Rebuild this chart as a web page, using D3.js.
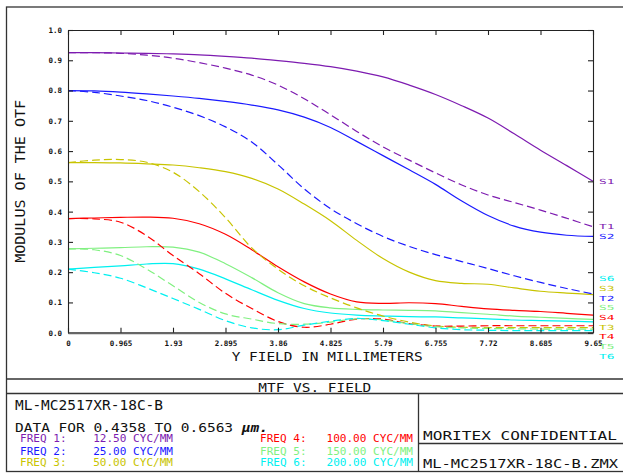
<!DOCTYPE html>
<html>
<head>
<meta charset="utf-8">
<script src="https://cdn.jsdelivr.net/npm/d3@7"></script>
<style>
  body { margin: 0; background: #fff; overflow: hidden; }
  svg { display: block; }
  .mono { font-family: "DejaVu Sans Mono", monospace; }
  .tick text { font-family: "DejaVu Sans Mono", monospace; font-weight: bold; font-size: 7.5px; fill: #111; }
</style>
</head>
<body>
<div id="chart"></div>
<script>
// field positions (mm) and tick values
const fields = [0, 0.4825, 0.965, 1.4475, 1.93, 2.4125, 2.895, 3.3775, 3.86, 4.3425, 4.825,
  5.3075, 5.79, 6.2725, 6.755, 7.2375, 7.72, 8.2025, 8.685, 9.1675, 9.65];
const xTicks = [0, 0.965, 1.93, 2.895, 3.86, 4.825, 5.79, 6.755, 7.72, 8.685, 9.65];
const yTicks = [0, 0.1, 0.2, 0.3, 0.4, 0.5, 0.6, 0.7, 0.8, 0.9, 1.0];

// sagittal (S) and tangential (T) MTF per frequency
const S1 = [0.925, 0.925, 0.924, 0.923, 0.921, 0.918, 0.913, 0.907, 0.899, 0.890, 0.879, 0.864, 0.845, 0.818, 0.787, 0.750, 0.709, 0.657, 0.603, 0.552, 0.500];
const T1 = [0.925, 0.925, 0.923, 0.917, 0.907, 0.892, 0.874, 0.851, 0.818, 0.773, 0.720, 0.665, 0.614, 0.570, 0.528, 0.488, 0.455, 0.430, 0.405, 0.378, 0.350];
const S2 = [0.800, 0.799, 0.795, 0.789, 0.782, 0.774, 0.764, 0.752, 0.736, 0.712, 0.678, 0.632, 0.585, 0.538, 0.490, 0.435, 0.387, 0.352, 0.332, 0.322, 0.318];
const T2 = [0.800, 0.794, 0.782, 0.767, 0.745, 0.717, 0.680, 0.630, 0.555, 0.475, 0.410, 0.360, 0.318, 0.285, 0.258, 0.235, 0.212, 0.188, 0.166, 0.146, 0.128];
const S3 = [0.562, 0.562, 0.561, 0.558, 0.554, 0.545, 0.532, 0.510, 0.475, 0.425, 0.370, 0.305, 0.245, 0.200, 0.172, 0.163, 0.160, 0.148, 0.137, 0.131, 0.126];
const T3 = [0.562, 0.570, 0.572, 0.563, 0.530, 0.466, 0.380, 0.280, 0.210, 0.155, 0.115, 0.082, 0.055, 0.035, 0.022, 0.018, 0.017, 0.017, 0.017, 0.017, 0.017];
const S4 = [0.377, 0.379, 0.381, 0.382, 0.378, 0.360, 0.325, 0.274, 0.218, 0.168, 0.128, 0.102, 0.097, 0.099, 0.096, 0.087, 0.079, 0.074, 0.070, 0.064, 0.058];
const T4 = [0.377, 0.376, 0.365, 0.320, 0.255, 0.195, 0.130, 0.080, 0.037, 0.018, 0.028, 0.045, 0.045, 0.030, 0.022, 0.022, 0.023, 0.023, 0.023, 0.023, 0.023];
const S5 = [0.277, 0.279, 0.281, 0.284, 0.283, 0.266, 0.228, 0.182, 0.132, 0.096, 0.082, 0.077, 0.075, 0.074, 0.072, 0.066, 0.061, 0.055, 0.051, 0.047, 0.044];
const T5 = [0.277, 0.274, 0.255, 0.210, 0.155, 0.100, 0.062, 0.045, 0.030, 0.028, 0.035, 0.046, 0.042, 0.030, 0.020, 0.016, 0.014, 0.013, 0.012, 0.012, 0.012];
const S6 = [0.210, 0.216, 0.221, 0.227, 0.228, 0.210, 0.178, 0.142, 0.107, 0.080, 0.065, 0.058, 0.055, 0.053, 0.052, 0.049, 0.046, 0.042, 0.040, 0.038, 0.036];
const T6 = [0.210, 0.198, 0.180, 0.148, 0.113, 0.077, 0.040, 0.016, 0.010, 0.025, 0.038, 0.047, 0.040, 0.028, 0.016, 0.010, 0.008, 0.007, 0.007, 0.007, 0.007];

const freqNames = ["FREQ 1:", "FREQ 2:", "FREQ 3:", "FREQ 4:", "FREQ 5:", "FREQ 6:"];
const freqValues = ["12.50", "25.00", "50.00", "100.00", "150.00", "200.00"];
const freqColors = ["#7d1bb0", "#1a1aff", "#c8c400", "#ff0000", "#80f080", "#00f0f0"];

// order in which the end labels are stacked at the right edge
const endLabelOrder = ["S1", "T1", "S2", "S6", "S3", "T2", "S5", "S4", "T3", "T4", "T5", "T6"];

const W = 623, H = 473;
const plot = { left: 68, top: 30, right: 593, bottom: 332.7 };

const svg = d3.select('#chart').append('svg')
  .attr('width', W)
  .attr('height', H);

const x = d3.scaleLinear().domain([0, 9.65]).range([plot.left, plot.right]);
const y = d3.scaleLinear().domain([0, 1]).range([plot.bottom, plot.top]);

// series table built from the arrays above
const sagittal = [S1, S2, S3, S4, S5, S6];
const tangential = [T1, T2, T3, T4, T5, T6];
const series = [];
sagittal.forEach((vals, i) => series.push({ key: 'S' + (i + 1), vals, color: freqColors[i], dashed: false }));
tangential.forEach((vals, i) => series.push({ key: 'T' + (i + 1), vals, color: freqColors[i], dashed: true }));

// outer frame and title block
const frame = svg.append('g').attr('stroke', '#333').attr('stroke-width', 1.3).attr('fill', 'none');
frame.append('rect').attr('x', 6.5).attr('y', 7).attr('width', 640).attr('height', 464.5);
frame.append('line').attr('x1', 6.5).attr('x2', W).attr('y1', 379).attr('y2', 379);
frame.append('line').attr('x1', 6.5).attr('x2', W).attr('y1', 393.5).attr('y2', 393.5);
frame.append('line').attr('x1', 418.5).attr('x2', 418.5).attr('y1', 393.5).attr('y2', 471.5);
frame.append('line').attr('x1', 418.5).attr('x2', W).attr('y1', 443.5).attr('y2', 443.5);

// curves
const line = d3.line()
  .x((d, i) => x(fields[i]))
  .y(d => y(d))
  .curve(d3.curveCatmullRom.alpha(0.5));

svg.append('g')
  .selectAll('path')
  .data(series)
  .enter().append('path')
  .attr('d', d => line(d.vals))
  .attr('fill', 'none')
  .attr('stroke', d => d.color)
  .attr('stroke-width', 1.2)
  .attr('stroke-dasharray', d => d.dashed ? '8,4' : null);

// axes
const fmtX = d3.format('.4~r');
const gLeft = svg.append('g').attr('transform', `translate(${plot.left},0)`)
  .call(d3.axisLeft(y).tickValues(yTicks).tickFormat(d3.format('.1f')).tickSize(-5).tickSizeOuter(0).tickPadding(6));
const gBottom = svg.append('g').attr('transform', `translate(0,${plot.bottom})`)
  .call(d3.axisBottom(x).tickValues(xTicks).tickFormat(d => fmtX(d)).tickSize(-5).tickSizeOuter(0).tickPadding(8));
const gTop = svg.append('g').attr('transform', `translate(0,${plot.top})`)
  .call(d3.axisTop(x).tickValues(xTicks).tickFormat('').tickSize(-5).tickSizeOuter(0));
const gRight = svg.append('g').attr('transform', `translate(${plot.right},0)`)
  .call(d3.axisRight(y).tickValues(yTicks).tickFormat('').tickSize(-5).tickSizeOuter(0));

[gLeft, gTop, gRight].forEach(g => {
  g.selectAll('path, line').attr('stroke', '#222').attr('stroke-width', 1.1);
});
gBottom.selectAll('line').attr('stroke', '#222').attr('stroke-width', 1.1);
gBottom.select('path.domain').attr('stroke', '#666').attr('stroke-width', 2.2);

// end labels, stacked without overlap
const gap = 9.7;
const byKey = new Map(series.map(s => [s.key, s]));
const labelPos = endLabelOrder.map(k => y(byKey.get(k).vals[byKey.get(k).vals.length - 1]));
for (let iter = 0; iter < 300; iter++) {
  for (let i = 0; i < labelPos.length - 1; i++) {
    const d = labelPos[i + 1] - labelPos[i];
    if (d < gap) {
      const push = (gap - d) / 2;
      labelPos[i] -= push;
      labelPos[i + 1] += push;
    }
  }
}
svg.append('g')
  .selectAll('text')
  .data(endLabelOrder)
  .enter().append('text')
  .attr('class', 'mono')
  .attr('x', plot.right + 6)
  .attr('y', (d, i) => labelPos[i])
  .attr('dy', '0.36em')
  .attr('font-size', 7)
  .attr('textLength', 15.5)
  .attr('lengthAdjust', 'spacingAndGlyphs')
  .attr('fill', d => byKey.get(d).color)
  .text(d => d);

// axis titles
svg.append('text')
  .attr('class', 'mono')
  .attr('transform', `translate(25,${(plot.top + plot.bottom) / 2}) rotate(-90)`)
  .attr('text-anchor', 'middle')
  .attr('font-size', 13.5)
  .attr('textLength', 163)
  .attr('lengthAdjust', 'spacingAndGlyphs')
  .attr('fill', '#111')
  .text('MODULUS OF THE OTF');

function blockText(str, x0, yb, size, len, color) {
  return svg.append('text')
    .attr('class', 'mono')
    .attr('x', x0)
    .attr('y', yb)
    .attr('font-size', size)
    .attr('textLength', len)
    .attr('lengthAdjust', 'spacingAndGlyphs')
    .attr('fill', color || '#111')
    .style('white-space', 'pre')
    .text(str);
}

blockText('Y FIELD IN MILLIMETERS', 231.7, 361, 13, 191);
blockText('MTF VS. FIELD', 258.3, 391.5, 13, 113);
blockText('ML-MC2517XR-18C-B', 15, 409.5, 13.5, 148);

const dataLine = svg.append('text')
  .attr('class', 'mono')
  .attr('x', 15)
  .attr('y', 431.5)
  .attr('font-size', 12.5)
  .attr('textLength', 253)
  .attr('lengthAdjust', 'spacingAndGlyphs')
  .attr('fill', '#111')
  .style('white-space', 'pre');
dataLine.append('tspan').text('DATA FOR 0.4358 TO 0.6563 ');
dataLine.append('tspan').attr('font-style', 'italic').attr('font-weight', 'bold').text('µm.');

// frequency legend
const legendBase = [442, 454.5, 466];
freqNames.forEach((name, i) => {
  const col = i < 3 ? 0 : 1;
  const row = i % 3;
  const pad = ' '.repeat(9 - freqValues[i].length);
  blockText(name + pad + freqValues[i] + ' CYC/MM', col ? 260 : 20, legendBase[row], 10, 153, freqColors[i]);
});

blockText('MORITEX CONFIDENTIAL', 423, 440, 13, 194);
blockText('ML-MC2517XR-18C-B.ZMX', 423, 468.3, 13, 195);
</script>
</body>
</html>
